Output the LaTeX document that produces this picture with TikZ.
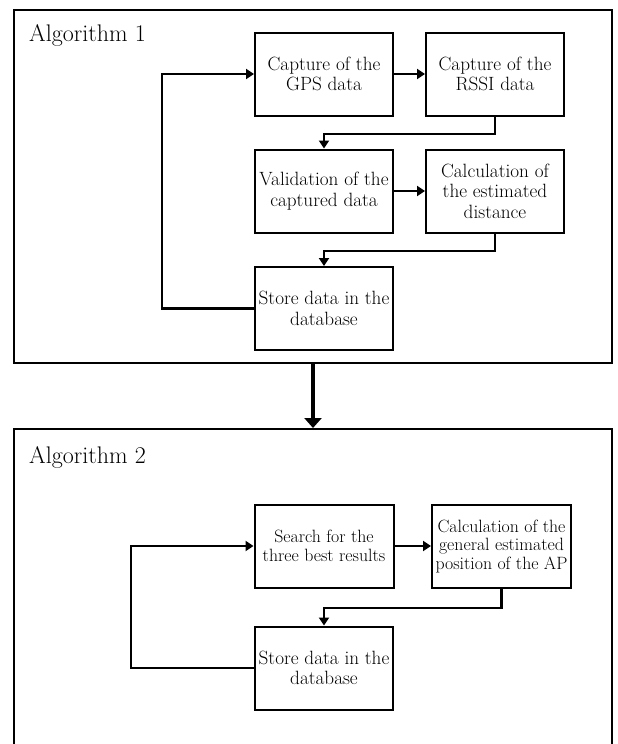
\documentclass[tikz,border=0pt]{standalone}
\usetikzlibrary{arrows.meta}
\begin{document}
\begin{tikzpicture}[x=1pt,y=-1pt,
  frame/.style={draw,line width=2pt,minimum width=598pt},
  title/.style={anchor=base west,inner sep=0pt,font=\fontsize{24}{26}\selectfont},
  procbox/.style={draw,line width=2pt,minimum width=138pt,minimum height=83pt,
    inner sep=0pt,align=center,font=\fontsize{19.2}{20.5}\selectfont},
  procsmall/.style={procbox,minimum width=139pt,font=\fontsize{17.8}{18.5}\selectfont},
  flow/.style={line width=2.5pt,-{Triangle[length=8pt,width=10pt]}}]
\clip (0,0) rectangle (618,744);
% Algorithm 1
\node[frame,minimum height=353pt] (alg1) at (313,186.5) {};
\node[title] (t1) at (29,41) {Algorithm 1};
\node[procbox] (gps) at (324,74) {Capture of the\\GPS data};
\node[procbox] (rssi) at (495,74) {Capture of the\\RSSI data};
\node[procbox] (valid) at (324,191) {Validation of the\\captured data};
\node[procbox] (dist) at (495,191) {Calculation of\\the estimated\\distance};
\node[procbox] (store) at (324,308.5) {Store data in the\\database};
\draw[flow] (gps) -- (rssi);
\draw[flow] (rssi.south) -- ++(0,17.5) -| (valid.north);
\draw[flow] (valid) -- (dist);
\draw[flow] (dist.south) -- ++(0,17.5) -| (store.north);
\draw[flow] (store.west) -- ++(-92,0) |- (gps.west);
% Algorithm 2
\node[frame,minimum height=342pt] (alg2) at (313,600) {};
\node[title] (t2) at (29,463) {Algorithm 2};
\node[procsmall] (search) at (324,546) {Search for the\\three best results};
\node[procsmall] (pos) at (501.5,546) {Calculation of the\\general estimated\\position of the AP};
\node[procbox] (store2) at (324,668) {Store data in the\\database};
\draw[flow] (search) -- (pos);
\draw[flow] (pos.south) -- ++(0,19.5) -| (store2.north);
\draw[flow] (store2.west) -- ++(-123,0) |- (search.west);
\draw[line width=4.5pt,-{Triangle[length=10pt,width=17pt]}] (alg1.south) -- (alg2.north);
\end{tikzpicture}
\end{document}
